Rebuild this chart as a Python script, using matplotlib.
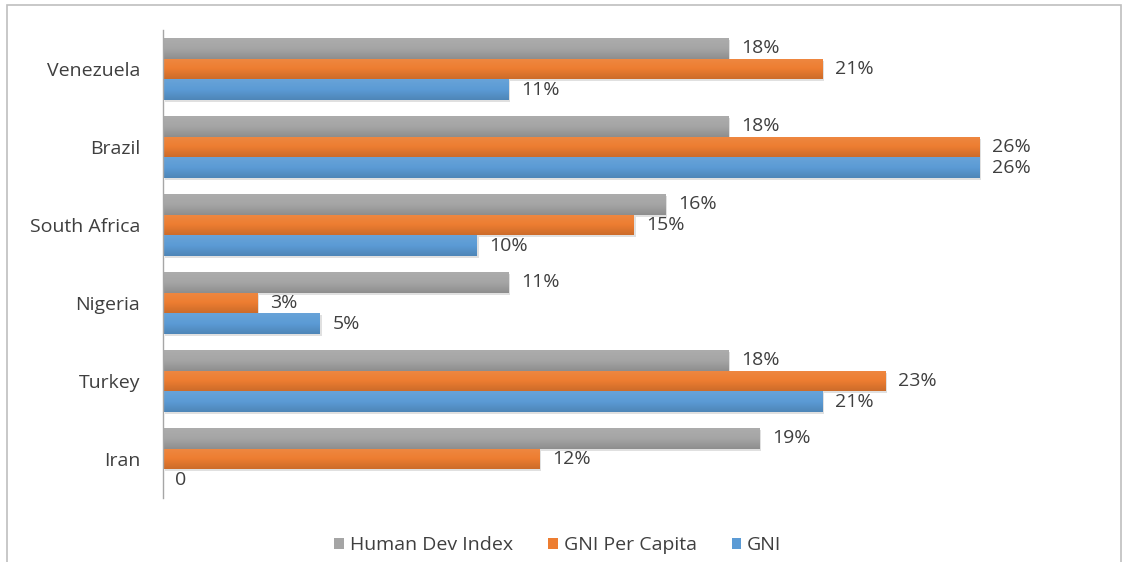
import matplotlib
matplotlib.use("Agg")
import matplotlib.pyplot as plt
import numpy as np
from matplotlib.colors import LinearSegmentedColormap, to_rgb
from matplotlib.patches import Rectangle, Patch
import matplotlib.transforms as mtransforms

plt.rcParams['font.family'] = ['Open Sans', 'DejaVu Sans']

# Data (percent), categories listed top to bottom
countries = ["Venezuela", "Brazil", "South Africa", "Nigeria", "Turkey", "Iran"]
series_names = ["Human Dev Index", "GNI Per Capita", "GNI"]
hdi = [18, 18, 16, 11, 18, 19]
gni_per_capita = [21, 26, 15, 3, 23, 12]
gni = [11, 26, 10, 5, 21, 0]
value_labels = {
    "Human Dev Index": ["18%", "18%", "16%", "11%", "18%", "19%"],
    "GNI Per Capita": ["21%", "26%", "15%", "3%", "23%", "12%"],
    "GNI": ["11%", "26%", "10%", "5%", "21%", "0"],
}
series_values = [hdi, gni_per_capita, gni]
colors = ["#A5A5A5", "#ED7D31", "#5B9BD5"]
text_color = "#3F3F3F"
fs = 14

W, H = 1126, 562
fig = plt.figure(figsize=(W / 100, H / 100), dpi=100)
fig.patch.set_facecolor("white")

# chart frame
frame = Rectangle((7 / W, -0.05), (1121 - 7) / W, (H - 5) / H + 0.05,
                  transform=fig.transFigure, fill=False,
                  edgecolor="#BFBFBF", linewidth=1.2)
fig.patches.append(frame)

ax = fig.add_axes([163 / W, (H - 498) / H, (1105 - 163) / W, 468 / H])

n = len(countries)
y_centers = np.arange(n)[::-1].astype(float)  # Venezuela on top
group = 0.8
bh = group / 3


def shade(c, f):
    r, g, b = to_rgb(c)
    if f >= 1:
        return tuple(min(1, x + (1 - x) * (f - 1)) for x in (r, g, b))
    return tuple(x * f for x in (r, g, b))


shadow_tf = ax.transData + mtransforms.ScaledTranslation(1.5 / 100, -2.0 / 100, fig.dpi_scale_trans)

for i, (name, vals, col) in enumerate(zip(series_names, series_values, colors)):
    offs = (1 - i) * bh  # first series on top within each group
    cmap = LinearSegmentedColormap.from_list(
        name, [shade(col, 0.86), shade(col, 1.0), shade(col, 1.08)])
    grad = np.linspace(0, 1, 64).reshape(-1, 1)
    for yc, v, lab in zip(y_centers, vals, value_labels[name]):
        y0 = yc + offs - bh / 2
        if v > 0:
            sh = Rectangle((0, y0), v, bh, facecolor="black", alpha=0.12,
                           linewidth=0, transform=shadow_tf, zorder=1)
            ax.add_patch(sh)
            rect = Rectangle((0, y0), v, bh, facecolor=col, linewidth=0, zorder=2)
            ax.add_patch(rect)
            im = ax.imshow(grad, cmap=cmap, aspect="auto", origin="lower",
                           extent=(0, v, y0, y0 + bh), zorder=2.5,
                           interpolation="bilinear")
            im.set_clip_path(rect)
        ax.annotate(lab, xy=(v, yc + offs), xytext=(9, 0),
                    textcoords="offset points", va="center", ha="left",
                    fontsize=fs, color=text_color)

ax.set_xlim(0, 30)
ax.set_ylim(-0.5, n - 0.5)
ax.set_yticks(y_centers)
ax.set_yticklabels(countries, fontsize=fs, color=text_color)
ax.tick_params(axis="y", length=0, pad=16.5)
ax.set_xticks([])
for s in ["top", "right", "bottom"]:
    ax.spines[s].set_visible(False)
ax.spines["left"].set_color("#A6A6A6")
ax.spines["left"].set_linewidth(1.0)
ax.set_facecolor("none")

handles = [Patch(facecolor=c, edgecolor="none") for c in colors]
fig.legend(handles, series_names, loc="center", bbox_to_anchor=(558 / W, 17 / H),
           ncol=3, frameon=False, fontsize=fs, handlelength=0.5,
           handleheight=0.5, handletextpad=0.3, columnspacing=1.8,
           labelcolor=text_color)

fig.savefig("out.png", dpi=100, facecolor="white")
